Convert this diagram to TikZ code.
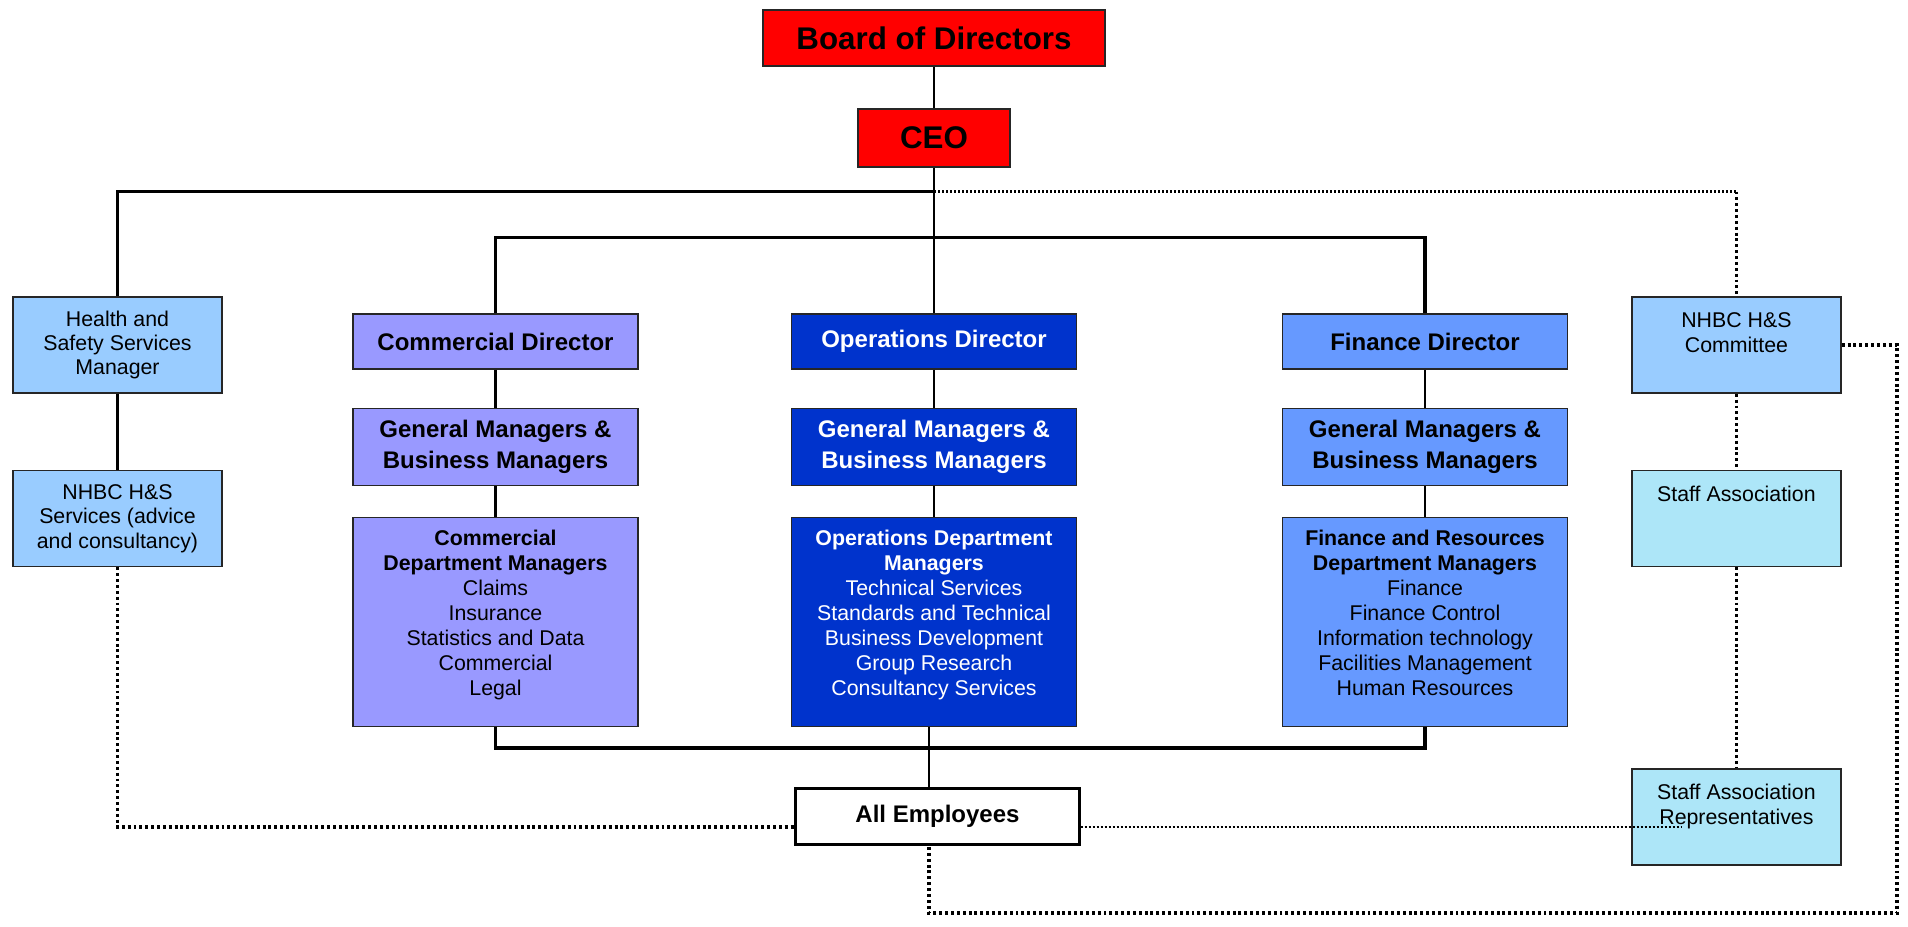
\documentclass[tikz,border=0pt]{standalone}
\usepackage{fontspec}
\setmainfont{Liberation Sans}
\usetikzlibrary{positioning}
\definecolor{boardred}{HTML}{FF0000}
\definecolor{comblue}{HTML}{9999FF}
\definecolor{opsblue}{HTML}{0033CC}
\definecolor{finblue}{HTML}{6699FF}
\definecolor{hsblue}{HTML}{99CCFF}
\definecolor{staffcyan}{HTML}{ADE6F8}
\tikzset{
  box/.style={draw=black!85, line width=1.2pt, inner sep=0pt, align=center, minimum width=213.75pt},
  headbox/.style={box, fill=boardred, minimum height=42pt, font=\fontsize{23.5}{28}\selectfont\bfseries},
  dirbox/.style={box, minimum height=41.25pt, font=\fontsize{18}{22.8}\selectfont\bfseries},
  gmbox/.style={dirbox, minimum height=57.75pt},
  deptbox/.style={box, minimum height=156.75pt},
  sidebox/.style={box, minimum width=156.75pt, minimum height=72pt, font=\fontsize{16}{18.2}\selectfont},
  toptext/.style={inner sep=0pt, align=center, font=\fontsize{16}{18.7}\selectfont},
  conn/.style={line width=2.2pt},
  bus/.style={line width=2.6pt},
  dotline/.style={line width=2.3pt, dash pattern=on 2.2pt off 2.2pt},
  finedot/.style={line width=2.1pt, dash pattern=on 1.5pt off 1.5pt},
}
\begin{document}
\begin{tikzpicture}[x=0.75pt, y=-0.75pt]
\useasboundingbox (0,0) rectangle (1908,926);
% Board and CEO
\node[headbox, minimum width=256.5pt] (board) at (934,38) {Board of Directors};
\node[headbox, minimum width=114pt, minimum height=43.5pt] (ceo) at (934,138) {CEO};

% Directors
\node[dirbox, fill=comblue] (com-dir) at (495.5,341.5) {Commercial Director};
\node[dirbox, fill=opsblue, text=white] (ops-dir) at (934,341.5) {Operations Director};
\node[dirbox, fill=finblue] (fin-dir) at (1425,341.5) {Finance Director};

% General managers
\node[gmbox, fill=comblue] (com-gm) at (495.5,447) {General Managers \&\\Business Managers};
\node[gmbox, fill=opsblue, text=white] (ops-gm) at (934,447) {General Managers \&\\Business Managers};
\node[gmbox, fill=finblue] (fin-gm) at (1425,447) {General Managers \&\\Business Managers};

% Department managers
\node[deptbox, fill=comblue] (com-dept) at (495.5,622) {};
\node[deptbox, fill=opsblue] (ops-dept) at (934,622) {};
\node[deptbox, fill=finblue] (fin-dept) at (1425,622) {};
\node[toptext, below=9.75pt of com-dept.north] (com-text)
  {\textbf{Commercial}\\\textbf{Department Managers}\\Claims\\Insurance\\Statistics and Data\\Commercial\\Legal};
\node[toptext, text=white, below=9.75pt of ops-dept.north] (ops-text)
  {\textbf{Operations Department}\\\textbf{Managers}\\Technical Services\\Standards and Technical\\Business Development\\Group Research\\Consultancy Services};
\node[toptext, below=9.75pt of fin-dept.north] (fin-text)
  {\textbf{Finance and Resources}\\\textbf{Department Managers}\\Finance\\Finance Control\\Information technology\\Facilities Management\\Human Resources};

% Health and safety, left
\node[sidebox, fill=hsblue] (hs-mgr) at (117.5,345) {Health and\\Safety Services\\Manager};
\node[sidebox, fill=hsblue] (hs-serv) at (117.5,518.5) {NHBC H\&S\\Services (advice\\and consultancy)};

% Committee and staff association, right
\node[sidebox, fill=hsblue] (hs-com) at (1736.4,345) {};
\node[sidebox, fill=staffcyan] (staff) at (1736.4,518.5) {};
\node[sidebox, fill=staffcyan] (staff-rep) at (1736.4,817) {};
\node[toptext, below=12pt of hs-com.north] (hs-com-text) {NHBC H\&S\\Committee};
\node[toptext, below=12pt of staff.north] (staff-text) {Staff Association};
\node[toptext, below=12pt of staff-rep.north] (staff-rep-text) {Staff Association\\Representatives};

% All employees
\node[box, draw=black, line width=2pt, fill=white, minimum width=212.6pt, minimum height=42pt,
  font=\fontsize{18}{22}\selectfont\bfseries] (all-emp) at (937.5,816.5) {All Employees};

% Solid reporting lines
\coordinate (bus-top) at (934,191.5);
\coordinate (bus-mid) at (934,237.5);
\coordinate (bus-low) at (934,748);
\coordinate (emp-drop) at (929,748);
\draw[conn] (board) -- (ceo);
\draw[conn] (ceo) -- (ops-dir);
\draw[bus] (hs-mgr.north) |- (bus-top);
\draw[bus] (com-dir.north) |- (bus-mid) -| (fin-dir.north);
\foreach \unit in {com,ops,fin} {
  \draw[conn] (\unit-dir) -- (\unit-gm);
  \draw[conn] (\unit-gm) -- (\unit-dept);
}
\draw[bus] (com-dept.south) |- (bus-low) -| (fin-dept.south);
\draw[conn] (emp-drop |- ops-dept.south) -- (emp-drop |- all-emp.north);
\draw[conn] (hs-mgr) -- (hs-serv);

% Dotted consultation lines
\coordinate (far-corner) at (1897,913);
\coordinate (emp-line) at (0,827);
\coordinate (rep-end) at (1682,827);
\draw[finedot] (bus-top) -- (bus-top -| hs-com.north);
\draw[dotline] (bus-top -| hs-com.north) -- (hs-com.north);
\draw[dotline] (hs-com) -- (staff);
\draw[dotline] (staff) -- (staff-rep);
\draw[dotline] (hs-com.east) -| (far-corner) -| (emp-drop |- all-emp.south);
\draw[dotline] (hs-serv.south) |- (emp-line -| all-emp.west);
\draw[finedot] (emp-line -| all-emp.east) -- (rep-end);
\end{tikzpicture}
\end{document}
